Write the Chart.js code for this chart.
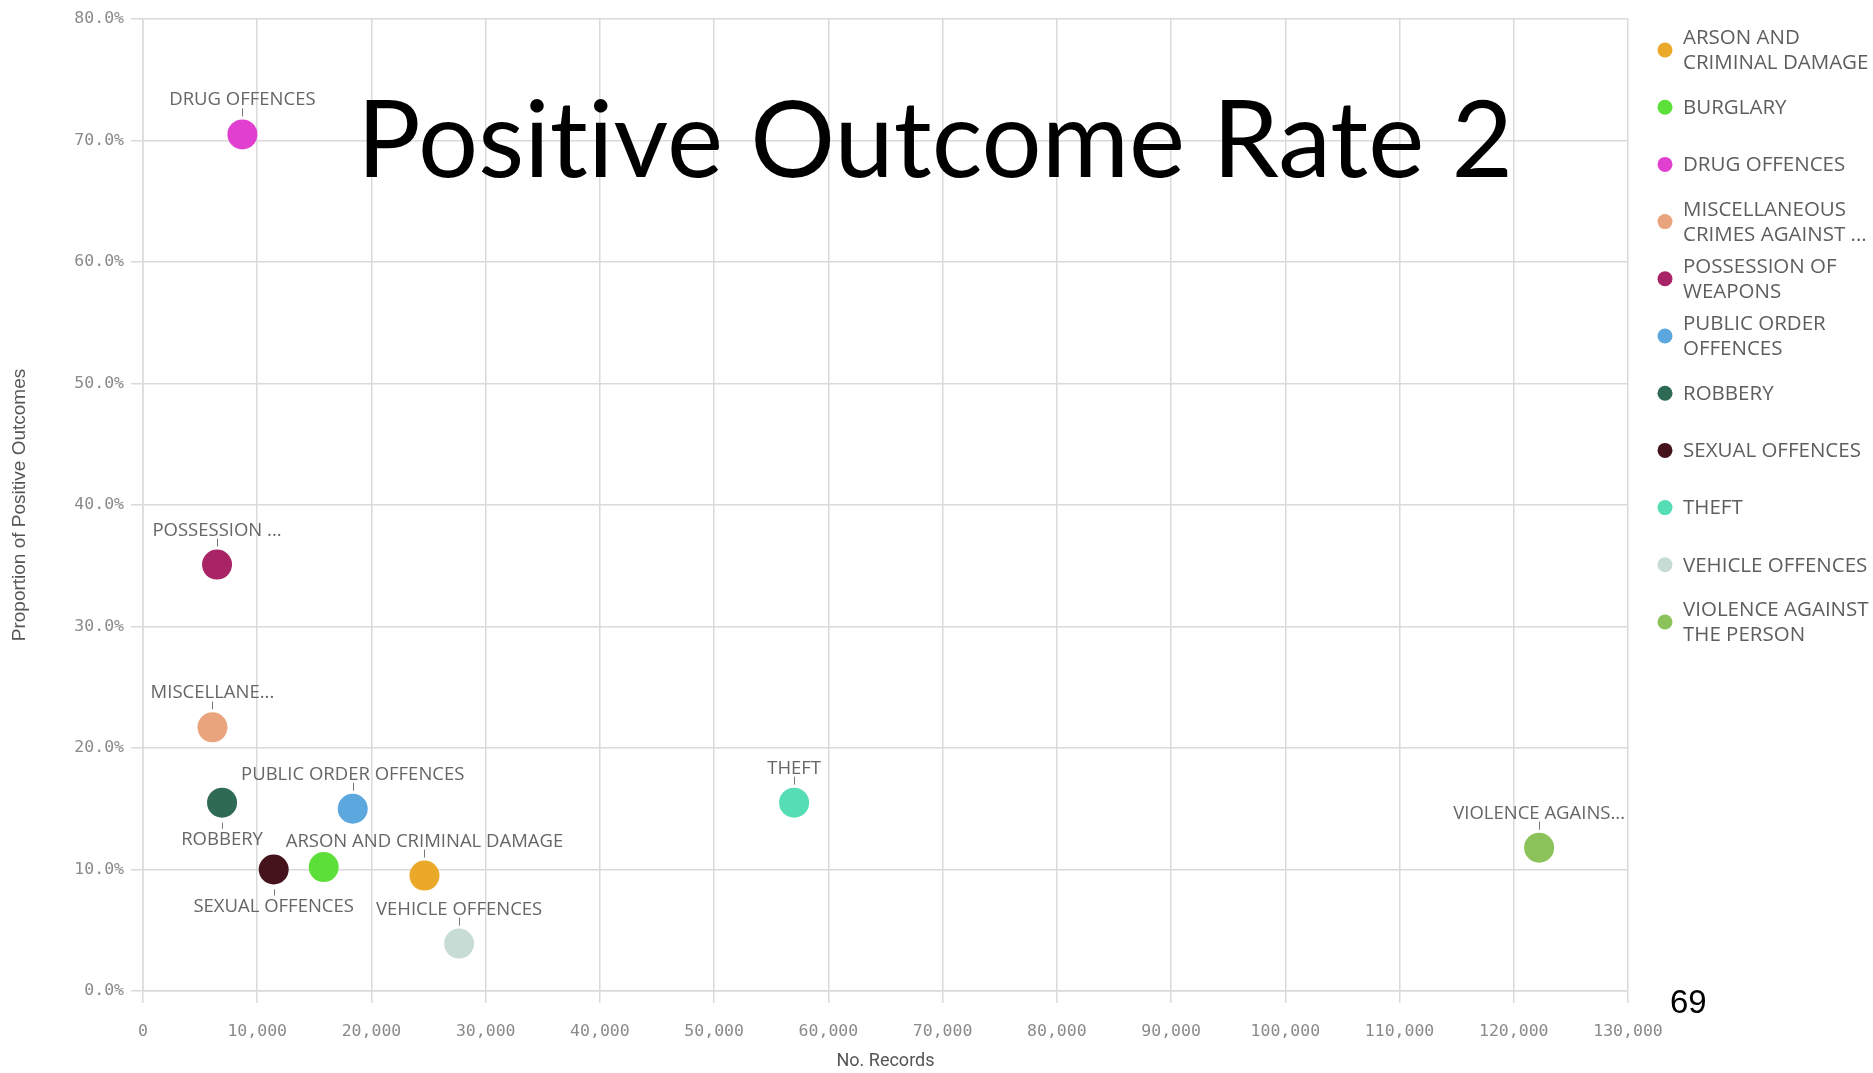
<!DOCTYPE html>
<html>
<head>
<meta charset="utf-8">
<title>Positive Outcome Rate 2</title>
<script src="https://cdn.jsdelivr.net/npm/chart.js@4.4.1/dist/chart.umd.min.js"></script>
<style>
  html, body { margin: 0; padding: 0; background: #fff; }
  #chart { display: block; }
</style>
</head>
<body>
<canvas id="chart" width="1873" height="1073"></canvas>
<script>
// Crime types, records count and share of positive outcomes (%)
const categories = [
  "ARSON AND CRIMINAL DAMAGE", "BURGLARY", "DRUG OFFENCES",
  "MISCELLANEOUS CRIMES AGAINST SOCIETY", "POSSESSION OF WEAPONS",
  "PUBLIC ORDER OFFENCES", "ROBBERY", "SEXUAL OFFENCES", "THEFT",
  "VEHICLE OFFENCES", "VIOLENCE AGAINST THE PERSON"
];
const records = [24640, 15820, 8700, 6080, 6480, 18360, 6920, 11440, 57000, 27670, 122220];
const positiveRates = [9.5, 10.2, 70.5, 21.7, 35.1, 15.0, 15.5, 10.0, 15.5, 3.9, 11.8];

// Shortened labels next to the bubbles (burglary is not labelled)
const pointLabels = [
  "ARSON AND CRIMINAL DAMAGE", "", "DRUG OFFENCES", "MISCELLANE...", "POSSESSION ...",
  "PUBLIC ORDER OFFENCES", "ROBBERY", "SEXUAL OFFENCES", "THEFT",
  "VEHICLE OFFENCES", "VIOLENCE AGAINS..."
];
const legendLines = [
  ["ARSON AND", "CRIMINAL DAMAGE"], ["BURGLARY"], ["DRUG OFFENCES"],
  ["MISCELLANEOUS", "CRIMES AGAINST ..."], ["POSSESSION OF", "WEAPONS"],
  ["PUBLIC ORDER", "OFFENCES"], ["ROBBERY"], ["SEXUAL OFFENCES"], ["THEFT"],
  ["VEHICLE OFFENCES"], ["VIOLENCE AGAINST", "THE PERSON"]
];

const xTicks = { min: 0, max: 130000, step: 10000 };
const yTicks = { min: 0, max: 80, step: 10 };

const colors = [
  "#eaa928", "#5ddf3a", "#e03fd0", "#e9a47e", "#a92466", "#5ba7de",
  "#2f6a55", "#44131b", "#55ddb5", "#c8dcd6", "#8bc25a"
];
const labelsBelow = new Set(["ROBBERY", "SEXUAL OFFENCES"]);

const POINT_R = 15;
const GRID = "#dadada";

// Labels above/below each bubble with a small leader tick
const pointLabelPlugin = {
  id: "pointLabels",
  afterDatasetsDraw(chart) {
    const { ctx } = chart;
    ctx.save();
    ctx.font = "18.5px 'Open Sans'";
    ctx.fillStyle = "#666";
    ctx.strokeStyle = "#777";
    ctx.lineWidth = 1;
    ctx.textAlign = "center";
    ctx.textBaseline = "alphabetic";
    chart.data.datasets.forEach((ds, i) => {
      const text = pointLabels[i];
      if (!text) return;
      const pt = chart.getDatasetMeta(i).data[0];
      const x = Math.round(pt.x) + 0.5;
      if (labelsBelow.has(text)) {
        const b = pt.y + POINT_R;
        ctx.beginPath();
        ctx.moveTo(x, b + 5);
        ctx.lineTo(x, b + 11);
        ctx.stroke();
        ctx.fillText(text, pt.x, b + 27);
      } else {
        const t = pt.y - POINT_R;
        ctx.beginPath();
        ctx.moveTo(x, t - 3);
        ctx.lineTo(x, t - 11);
        ctx.stroke();
        ctx.fillText(text, pt.x, t - 14);
      }
    });
    ctx.restore();
  }
};

// Legend column on the right, one row per crime type
const sideLegendPlugin = {
  id: "sideLegend",
  afterDraw(chart) {
    const { ctx } = chart;
    ctx.save();
    ctx.font = "20.5px 'Open Sans'";
    ctx.textBaseline = "middle";
    ctx.textAlign = "left";
    legendLines.forEach((lines, i) => {
      const cy = 50 + i * 57.2;
      ctx.fillStyle = colors[i];
      ctx.beginPath();
      ctx.arc(1665, cy, 7.5, 0, Math.PI * 2);
      ctx.fill();
      ctx.fillStyle = "#5e5e5e";
      const top = cy - (lines.length - 1) * 12.5;
      lines.forEach((line, j) => ctx.fillText(line, 1683, top + j * 25 + 1));
    });
    ctx.restore();
  }
};

// Slide heading over the plot and the page number
const slideTextPlugin = {
  id: "slideText",
  afterDraw(chart) {
    const { ctx } = chart;
    const heading = "Positive Outcome Rate 2";
    ctx.save();
    ctx.fillStyle = "#000";
    ctx.textBaseline = "alphabetic";
    ctx.letterSpacing = "0.1px"; // keeps "ti" as two separate glyphs
    ctx.font = "100px Lato";
    const size = 100 * 1156 / ctx.measureText(heading).width;
    ctx.font = size.toFixed(1) + "px Lato";
    ctx.fillText(heading, 357, 177);
    ctx.letterSpacing = "0px";
    ctx.font = "33px 'Liberation Sans'";
    ctx.fillText("69", 1670, 1013);
    ctx.restore();
  }
};

const datasets = categories.map((name, i) => ({
  label: name,
  data: [{ x: records[i], y: positiveRates[i] }],
  backgroundColor: colors[i],
  borderColor: colors[i],
  borderWidth: 0,
  pointRadius: POINT_R,
  pointHoverRadius: POINT_R
}));

const tickFont = { family: "'DejaVu Sans Mono'", size: 16.5 };

new Chart(document.getElementById("chart"), {
  type: "scatter",
  data: { datasets },
  plugins: [pointLabelPlugin, sideLegendPlugin, slideTextPlugin],
  options: {
    responsive: false,
    animation: false,
    layout: { padding: { left: 0, top: 19, right: 245, bottom: 0 } },
    plugins: {
      legend: { display: false },
      title: { display: false },
      tooltip: { enabled: false }
    },
    scales: {
      x: {
        type: "linear",
        min: xTicks.min,
        max: xTicks.max,
        afterFit: (scale) => { scale.height = 82; },
        grid: { color: GRID, lineWidth: 1.5, tickLength: 12, tickColor: GRID },
        border: { color: GRID, width: 1.5 },
        ticks: {
          stepSize: xTicks.step,
          padding: 19,
          color: "#8a8a8a",
          font: tickFont,
          maxRotation: 0,
          callback: (v) => v.toLocaleString("en-US")
        },
        title: {
          display: true,
          text: "No. Records",
          color: "#555",
          font: { family: "Roboto", size: 18 },
          padding: { top: 0, bottom: 1 }
        }
      },
      y: {
        type: "linear",
        min: yTicks.min,
        max: yTicks.max,
        afterFit: (scale) => { scale.width = 143; },
        grid: { color: GRID, lineWidth: 1.5, tickLength: 12, tickColor: GRID },
        border: { color: GRID, width: 1.5 },
        ticks: {
          stepSize: yTicks.step,
          padding: 7,
          color: "#8a8a8a",
          font: tickFont,
          callback: (v) => v.toFixed(1) + "%"
        },
        title: {
          display: true,
          text: "Proportion of Positive Outcomes",
          color: "#555",
          font: { family: "'Liberation Sans'", size: 19 },
          padding: { top: 8, bottom: 0 }
        }
      }
    }
  }
});
</script>
</body>
</html>
